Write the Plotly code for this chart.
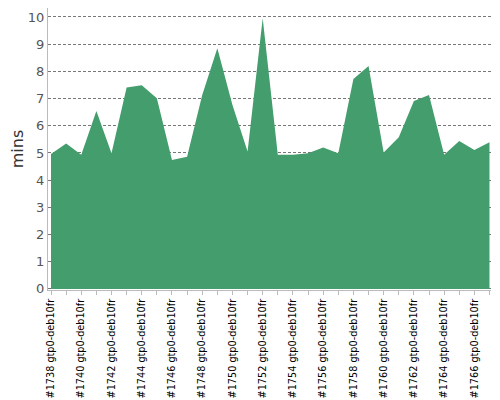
import plotly.graph_objects as go

# build numbers and their duration in minutes
builds = list(range(1738, 1768))
labels = [f"#{b} gtp0-deb10fr" for b in builds]
mins = [4.96, 5.35, 4.93, 6.54, 4.99, 7.41, 7.49, 7.01, 4.74, 4.86,
        7.13, 8.85, 6.76, 5.05, 9.95, 4.93, 4.93, 4.99, 5.20, 4.99,
        7.72, 8.20, 5.02, 5.58, 6.91, 7.13, 4.93, 5.44, 5.11, 5.39]
y_ticks = list(range(0, 11))

# label every second build, but keep a tick mark on each one
tick_text = [lab if i % 2 == 0 else "" for i, lab in enumerate(labels)]

fig = go.Figure()
fig.add_trace(go.Scatter(
    x=labels, y=mins, mode="lines", fill="tozeroy",
    line=dict(color="rgb(68,157,108)", width=0),
    fillcolor="rgb(68,157,108)", hoverinfo="x+y",
))

# the page body adds 8px around the figure, so size it to fill the rest
fig.update_layout(
    width=492, height=392,
    margin=dict(l=40, r=9, t=0, b=110),
    plot_bgcolor="white", paper_bgcolor="white",
    font=dict(family="DejaVu Sans", color="#444"),
    showlegend=False,
)
fig.update_xaxes(
    type="category", range=[-0.2, 29.1], automargin=False,
    tickmode="array", tickvals=labels, ticktext=tick_text,
    tickangle=-90, tickfont=dict(size=9.7, color="black"),
    ticks="outside", ticklen=4, tickcolor="#bbb",
    showline=True, linecolor="#bbb", linewidth=1, showgrid=False,
)
fig.update_yaxes(
    range=[-0.04, 10.33], tickvals=y_ticks, automargin=False,
    tickfont=dict(size=13, color="#555"),
    title=dict(text="mins", font=dict(size=16, color="#333"), standoff=4),
    showline=True, linecolor="#bbb", linewidth=1,
    showgrid=True, gridcolor="#777", gridwidth=1, griddash="3px,2px",
    zeroline=False, layer="above traces",
)

fig.write_html("out.html")
